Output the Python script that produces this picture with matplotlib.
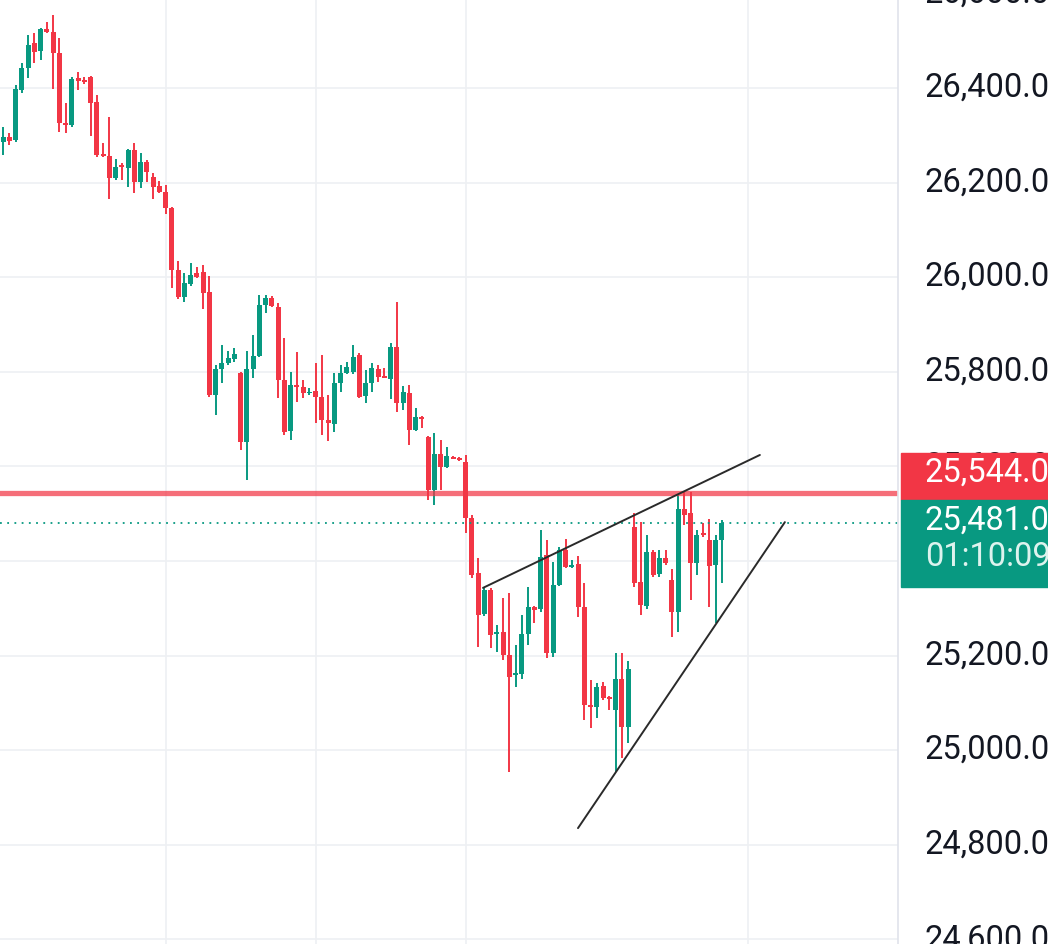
import matplotlib
matplotlib.use('Agg')
import matplotlib.pyplot as plt
import matplotlib.transforms as mtransforms
from matplotlib.patches import Rectangle
import numpy as np

# ---------------- data ----------------
opens = [26286, 26296, 26290, 26396, 26442, 26495, 26478, 26525, 26518, 26474,
         26326, 26321, 26421, 26417, 26423, 26370, 26260, 26256, 26210, 26237,
         26231, 26269, 26201, 26244, 26212, 26193, 26180, 26146, 26015, 25958,
         25986, 26009, 26010, 25969, 25751, 25806, 25819, 25827, 25797, 25652,
         25806, 25833, 25941, 25956, 25937, 25783, 25675, 25772, 25768, 25754,
         25760, 25747, 25698, 25690, 25776, 25797, 25800, 25836, 25749, 25776,
         25806, 25792, 25785, 25852, 25734, 25755, 25677, 25704, 25662, 25550,
         25626, 25599, 25620, 25618, 25609, 25491, 25375, 25288, 25339, 25245,
         25249, 25201, 25158, 25160, 25246, 25303, 25298, 25412, 25205, 25349,
         25423, 25387, 25394, 25303, 25096, 25091, 25136, 25112, 25085, 25150,
         25049, 25472, 25356, 25305, 25419, 25372, 25406, 25360, 25292, 25510,
         25501, 25396, 25459, 25444, 25391, 25444]
highs = [26318, 26305, 26406, 26453, 26512, 26516, 26527, 26540, 26554, 26506,
         26368, 26423, 26434, 26423, 26425, 26385, 26284, 26339, 26250, 26241,
         26272, 26284, 26263, 26248, 26220, 26203, 26195, 26148, 26034, 26009,
         26030, 26021, 26026, 26002, 25814, 25857, 25844, 25850, 25800, 25844,
         25878, 25962, 25962, 25960, 25945, 25871, 25800, 25842, 25783, 25766,
         25819, 25836, 25751, 25797, 25814, 25821, 25857, 25840, 25804, 25819,
         25814, 25808, 25861, 25948, 25770, 25772, 25723, 25706, 25665, 25671,
         25656, 25641, 25621, 25619, 25624, 25497, 25406, 25345, 25343, 25265,
         25322, 25332, 25222, 25286, 25345, 25305, 25465, 25444, 25398, 25430,
         25446, 25402, 25410, 25353, 25148, 25142, 25144, 25114, 25205, 25205,
         25188, 25501, 25482, 25455, 25423, 25423, 25423, 25383, 25540, 25546,
         25546, 25465, 25480, 25489, 25455, 25487]
lows = [26258, 26279, 26285, 26389, 26421, 26453, 26459, 26516, 26398, 26307,
        26305, 26318, 26396, 26408, 26298, 26254, 26253, 26165, 26205, 26205,
        26191, 26178, 26189, 26201, 26165, 26178, 26134, 25977, 25954, 25948,
        25981, 25998, 25933, 25747, 25709, 25776, 25814, 25821, 25635, 25571,
        25787, 25831, 25924, 25937, 25745, 25666, 25656, 25736, 25745, 25751,
        25692, 25666, 25654, 25673, 25757, 25795, 25795, 25745, 25734, 25757,
        25778, 25786, 25742, 25715, 25719, 25645, 25675, 25681, 25529, 25518,
        25550, 25597, 25615, 25612, 25459, 25364, 25218, 25284, 25216, 25208,
        25191, 24954, 25134, 25150, 25222, 25269, 25292, 25195, 25197, 25347,
        25385, 25384, 25281, 25064, 25047, 25068, 25106, 25085, 24954, 24983,
        25015, 25345, 25286, 25299, 25366, 25366, 25392, 25239, 25250, 25476,
        25318, 25370, 25451, 25303, 25269, 25353]
closes = [26296, 26288, 26398, 26442, 26491, 26476, 26525, 26518, 26474, 26326,
          26321, 26419, 26415, 26413, 26368, 26258, 26256, 26210, 26233, 26233,
          26269, 26201, 26244, 26222, 26191, 26180, 26146, 26015, 25958, 25988,
          26005, 26000, 25967, 25751, 25806, 25819, 25829, 25838, 25652, 25806,
          25833, 25941, 25956, 25939, 25783, 25673, 25772, 25768, 25755, 25758,
          25747, 25698, 25692, 25776, 25797, 25810, 25831, 25747, 25776, 25808,
          25789, 25787, 25852, 25734, 25757, 25677, 25704, 25701, 25550, 25626,
          25599, 25622, 25616, 25613, 25491, 25370, 25286, 25339, 25244, 25249,
          25201, 25155, 25163, 25246, 25303, 25296, 25408, 25205, 25349, 25423,
          25387, 25391, 25303, 25095, 25091, 25134, 25110, 25108, 25150, 25049,
          25172, 25353, 25307, 25419, 25370, 25406, 25396, 25292, 25510, 25497,
          25396, 25455, 25455, 25389, 25444, 25481]

price_ticks = [24600, 24800, 25000, 25200, 25400, 25600, 25800, 26000, 26200, 26400, 26600]
time_grid = [26.1, 50.1, 74.1, 119.2]          # vertical gridlines (bar index)
alert_level = 25544.0                            # red horizontal line
last_price = 25481.0
countdown = "01:10:09"
upper_trend = ([76.8, 121.1], [25343, 25624])     # (bar idx, price)
lower_trend = ([92.0, 125.1], [24835, 25482])

# ---------------- style ----------------
GREEN = '#089981'
RED = '#F23645'
TXT = '#131722'
GRID = '#EEF0F3'
FONT = 'Roboto'

W, H = 1048, 944
fig = plt.figure(figsize=(W / 100, H / 100), dpi=100)
fig.patch.set_facecolor('white')
pw = 898
ax = fig.add_axes([0, 0, pw / W, 1])
ax.set_xlim(-0.48, 143.2)
ax.set_ylim(24590, 26586)
ax.axis('off')

# grid
for p in price_ticks:
    ax.axhline(p, color=GRID, lw=1.2, zorder=0)
for t in time_grid:
    ax.axvline(t, color=GRID, lw=1.2, zorder=0)

# candles
o = np.array(opens, float); c = np.array(closes, float)
h = np.array(highs, float); l = np.array(lows, float)
idx = np.arange(len(o))
up = c >= o
cols = np.where(up, GREEN, RED)
ax.vlines(idx, l, h, colors=cols, lw=1.4, zorder=3)
bottom = np.minimum(o, c)
height = np.maximum(np.abs(c - o), 3.5)
ax.bar(idx, height, bottom=bottom, width=0.8, color=cols, edgecolor='none', zorder=4)

# levels
ax.axhline(alert_level, color=RED, alpha=0.72, lw=3.8, zorder=5)
ax.axhline(last_price, color=GREEN, lw=1.3, ls=(0, (1, 3)), zorder=5)

# trend lines
ax.plot(*upper_trend, color='#2A2A2A', lw=1.4, zorder=6, solid_capstyle='round')
ax.plot(*lower_trend, color='#2A2A2A', lw=1.4, zorder=6, solid_capstyle='round')

# price scale
fig.add_artist(plt.Line2D([pw / W, pw / W], [0, 1], transform=fig.transFigure,
                          color='#E0E3EB', lw=1.2))
blend = mtransforms.blended_transform_factory(fig.transFigure, ax.transData)
for p in price_ticks:
    fig.text(925 / W, p, f"{p:,.1f}", transform=blend, fontsize=23.5, family=FONT,
             color=TXT, va='center', ha='left')

# price labels (boxes)
fig.add_artist(Rectangle((901 / W, 1 - 500 / H), 1 - 901 / W, 47 / H,
                         transform=fig.transFigure, color=RED, zorder=10))
fig.add_artist(Rectangle((901 / W, 1 - 587 / H), 1 - 901 / W, 87 / H,
                         transform=fig.transFigure, color=GREEN, zorder=10))
fig.text(925 / W, 1 - 473 / H, f"{alert_level:,.1f}", fontsize=23.5, family=FONT,
         color='white', va='center', ha='left', zorder=11)
fig.text(925 / W, 1 - 521 / H, f"{last_price:,.1f}", fontsize=23.5, family=FONT,
         color='white', va='center', ha='left', zorder=11)
fig.text(925 / W, 1 - 557 / H, countdown, fontsize=23.5, family=FONT,
         color='#DDF3EE', va='center', ha='left', zorder=11)

fig.savefig('out.png', dpi=100, facecolor='white')
